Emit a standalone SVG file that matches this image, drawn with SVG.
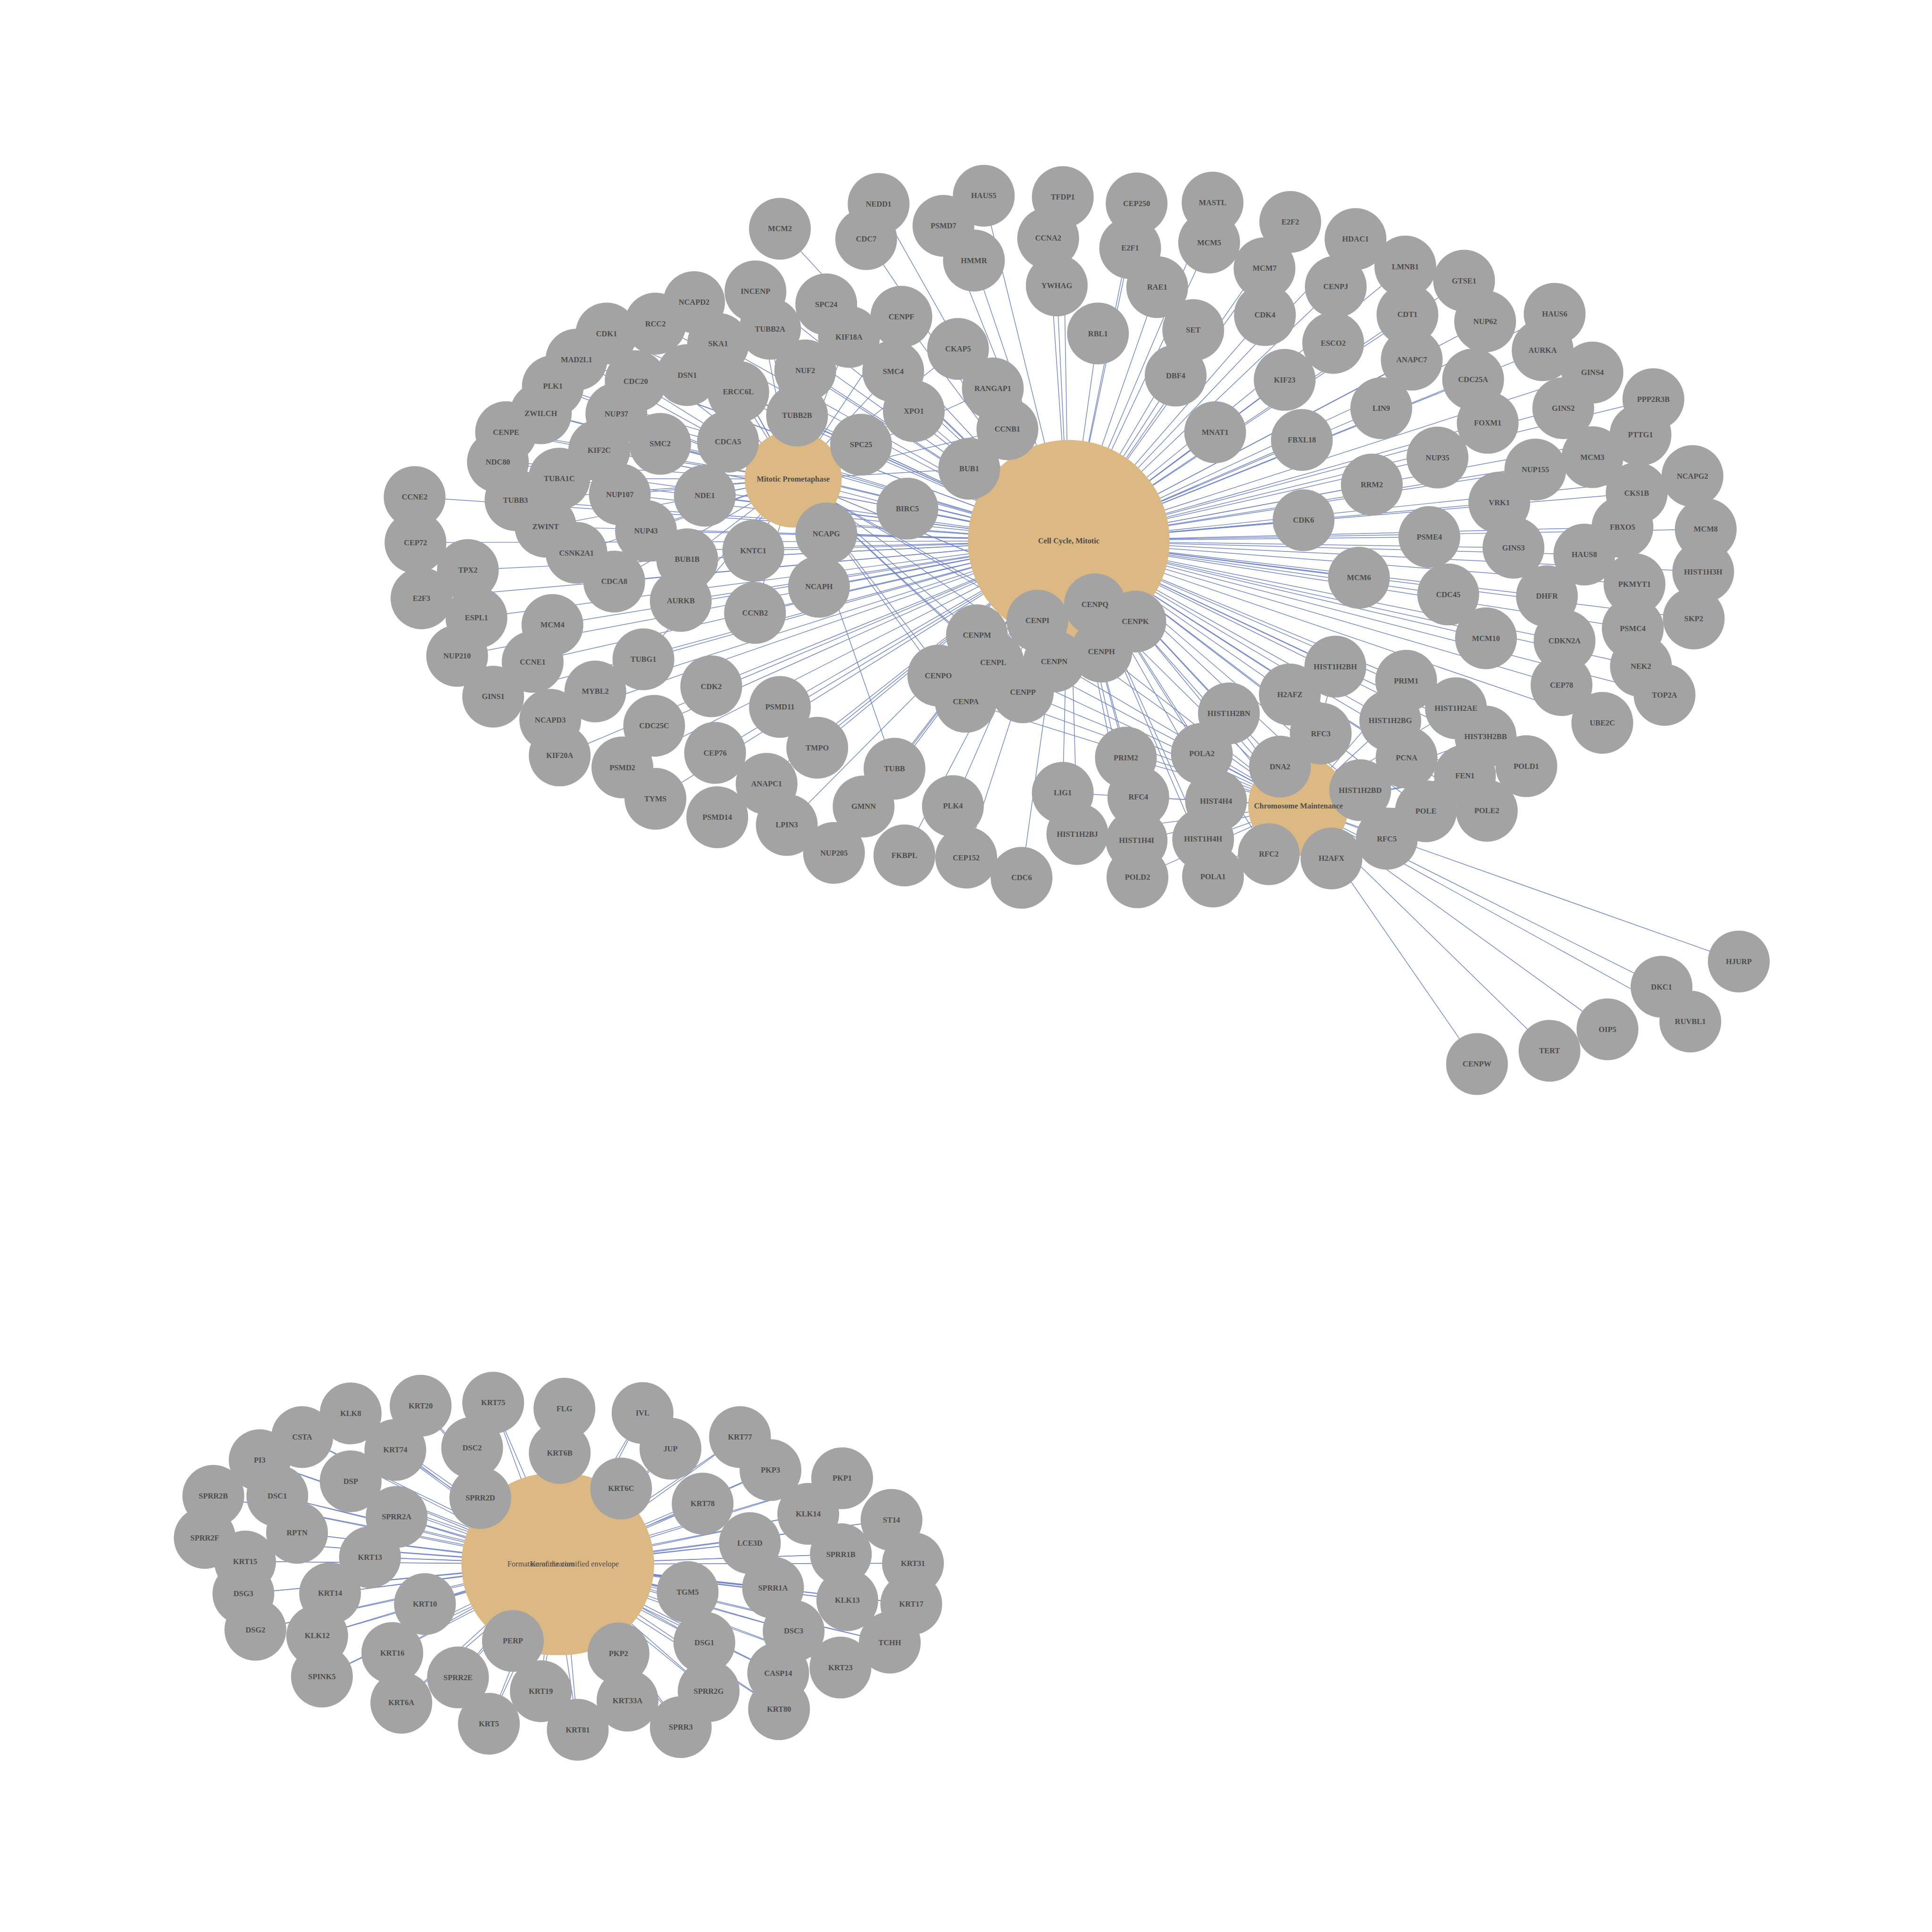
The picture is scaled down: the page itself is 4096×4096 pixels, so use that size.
<svg xmlns="http://www.w3.org/2000/svg" width="4096" height="4096" viewBox="0 0 4096 4096">
<style>
.n circle{fill:#a3a3a3}
.lb text{font-family:"Liberation Serif","Times New Roman",serif;font-weight:bold;font-size:18px;fill:#4d4d4d;text-anchor:middle}
.p circle{fill:#dcb883}
.pl{font-family:"Liberation Serif","Times New Roman",serif;font-weight:bold;font-size:18px;fill:#4d4d4d;text-anchor:middle}
.pr{font-family:"Liberation Serif","Times New Roman",serif;font-weight:normal;font-size:18px;fill:#4d4d4d;text-anchor:middle}
#connectors line{stroke:#7084c8;stroke-width:1.6;fill:none}
</style>
<rect width="4096" height="4096" fill="#ffffff"/>
<g transform="scale(0.91)">
<g id="connectors">
<g id="edges-cell-cycle">
<line x1="1817" y1="533" x2="2490" y2="1260"/>
<line x1="1760" y1="679" x2="2490" y2="1260"/>
<line x1="1925" y1="709" x2="2490" y2="1260"/>
<line x1="1617" y1="704" x2="2490" y2="1260"/>
<line x1="1527" y1="754" x2="2490" y2="1260"/>
<line x1="1413" y1="777" x2="2490" y2="1260"/>
<line x1="1794" y1="766" x2="2490" y2="1260"/>
<line x1="1673" y1="801" x2="2490" y2="1260"/>
<line x1="1343" y1="838" x2="2490" y2="1260"/>
<line x1="1876" y1="863" x2="2490" y2="1260"/>
<line x1="1481" y1="888" x2="2490" y2="1260"/>
<line x1="1601" y1="874" x2="2490" y2="1260"/>
<line x1="1288" y1="900" x2="2490" y2="1260"/>
<line x1="1720" y1="913" x2="2490" y2="1260"/>
<line x1="1260" y1="963" x2="2490" y2="1260"/>
<line x1="1436" y1="964" x2="2490" y2="1260"/>
<line x1="1857" y1="968" x2="2490" y2="1260"/>
<line x1="1179" y1="1007" x2="2490" y2="1260"/>
<line x1="1538" y1="1034" x2="2490" y2="1260"/>
<line x1="1696" y1="1029" x2="2490" y2="1260"/>
<line x1="1396" y1="1049" x2="2490" y2="1260"/>
<line x1="1160" y1="1076" x2="2490" y2="1260"/>
<line x1="1303" y1="1115" x2="2490" y2="1260"/>
<line x1="966" y1="1158" x2="2490" y2="1260"/>
<line x1="1201" y1="1165" x2="2490" y2="1260"/>
<line x1="1444" y1="1152" x2="2490" y2="1260"/>
<line x1="1642" y1="1155" x2="2490" y2="1260"/>
<line x1="1271" y1="1227" x2="2490" y2="1260"/>
<line x1="1505" y1="1237" x2="2490" y2="1260"/>
<line x1="1925" y1="1243" x2="2490" y2="1260"/>
<line x1="968" y1="1264" x2="2490" y2="1260"/>
<line x1="1343" y1="1288" x2="2490" y2="1260"/>
<line x1="1601" y1="1303" x2="2490" y2="1260"/>
<line x1="1755" y1="1283" x2="2490" y2="1260"/>
<line x1="1090" y1="1328" x2="2490" y2="1260"/>
<line x1="1431" y1="1355" x2="2490" y2="1260"/>
<line x1="1908" y1="1367" x2="2490" y2="1260"/>
<line x1="982" y1="1394" x2="2490" y2="1260"/>
<line x1="1586" y1="1400" x2="2490" y2="1260"/>
<line x1="1759" y1="1428" x2="2490" y2="1260"/>
<line x1="1110" y1="1439" x2="2490" y2="1260"/>
<line x1="1287" y1="1456" x2="2490" y2="1260"/>
<line x1="1065" y1="1528" x2="2490" y2="1260"/>
<line x1="1241" y1="1542" x2="2490" y2="1260"/>
<line x1="1499" y1="1536" x2="2490" y2="1260"/>
<line x1="1657" y1="1599" x2="2490" y2="1260"/>
<line x1="1387" y1="1611" x2="2490" y2="1260"/>
<line x1="1149" y1="1623" x2="2490" y2="1260"/>
<line x1="1817" y1="1647" x2="2490" y2="1260"/>
<line x1="1282" y1="1677" x2="2490" y2="1260"/>
<line x1="1524" y1="1691" x2="2490" y2="1260"/>
<line x1="1904" y1="1742" x2="2490" y2="1260"/>
<line x1="1666" y1="1754" x2="2490" y2="1260"/>
<line x1="1304" y1="1760" x2="2490" y2="1260"/>
<line x1="1450" y1="1788" x2="2490" y2="1260"/>
<line x1="1786" y1="1826" x2="2490" y2="1260"/>
<line x1="1527" y1="1861" x2="2490" y2="1260"/>
<line x1="1671" y1="1904" x2="2490" y2="1260"/>
<line x1="1833" y1="1922" x2="2490" y2="1260"/>
<line x1="1943" y1="1987" x2="2490" y2="1260"/>
<line x1="2047" y1="475" x2="2490" y2="1260"/>
<line x1="2292" y1="456" x2="2490" y2="1260"/>
<line x1="2476" y1="459" x2="2490" y2="1260"/>
<line x1="2648" y1="474" x2="2490" y2="1260"/>
<line x1="2825" y1="472" x2="2490" y2="1260"/>
<line x1="3006" y1="517" x2="2490" y2="1260"/>
<line x1="2198" y1="526" x2="2490" y2="1260"/>
<line x1="2018" y1="557" x2="2490" y2="1260"/>
<line x1="2442" y1="555" x2="2490" y2="1260"/>
<line x1="2633" y1="578" x2="2490" y2="1260"/>
<line x1="2817" y1="565" x2="2490" y2="1260"/>
<line x1="2269" y1="607" x2="2490" y2="1260"/>
<line x1="2946" y1="625" x2="2490" y2="1260"/>
<line x1="2462" y1="665" x2="2490" y2="1260"/>
<line x1="2696" y1="669" x2="2490" y2="1260"/>
<line x1="2100" y1="738" x2="2490" y2="1260"/>
<line x1="2947" y1="734" x2="2490" y2="1260"/>
<line x1="2780" y1="769" x2="2490" y2="1260"/>
<line x1="2558" y1="777" x2="2490" y2="1260"/>
<line x1="1978" y1="785" x2="2490" y2="1260"/>
<line x1="2232" y1="813" x2="2490" y2="1260"/>
<line x1="2081" y1="865" x2="2490" y2="1260"/>
<line x1="2739" y1="875" x2="2490" y2="1260"/>
<line x1="2993" y1="885" x2="2490" y2="1260"/>
<line x1="2313" y1="905" x2="2490" y2="1260"/>
<line x1="2129" y1="958" x2="2490" y2="1260"/>
<line x1="2347" y1="1000" x2="2490" y2="1260"/>
<line x1="2831" y1="1007" x2="2490" y2="1260"/>
<line x1="3033" y1="1025" x2="2490" y2="1260"/>
<line x1="2006" y1="1036" x2="2490" y2="1260"/>
<line x1="2258" y1="1092" x2="2490" y2="1260"/>
<line x1="2114" y1="1185" x2="2490" y2="1260"/>
<line x1="3037" y1="1212" x2="2490" y2="1260"/>
<line x1="3158" y1="557" x2="2490" y2="1260"/>
<line x1="3112" y1="668" x2="2490" y2="1260"/>
<line x1="3274" y1="621" x2="2490" y2="1260"/>
<line x1="3411" y1="654" x2="2490" y2="1260"/>
<line x1="3279" y1="733" x2="2490" y2="1260"/>
<line x1="3460" y1="749" x2="2490" y2="1260"/>
<line x1="3622" y1="731" x2="2490" y2="1260"/>
<line x1="3106" y1="799" x2="2490" y2="1260"/>
<line x1="3594" y1="816" x2="2490" y2="1260"/>
<line x1="3289" y1="838" x2="2490" y2="1260"/>
<line x1="3710" y1="868" x2="2490" y2="1260"/>
<line x1="3432" y1="884" x2="2490" y2="1260"/>
<line x1="3852" y1="930" x2="2490" y2="1260"/>
<line x1="3218" y1="951" x2="2490" y2="1260"/>
<line x1="3642" y1="951" x2="2490" y2="1260"/>
<line x1="3466" y1="985" x2="2490" y2="1260"/>
<line x1="3822" y1="1013" x2="2490" y2="1260"/>
<line x1="3349" y1="1066" x2="2490" y2="1260"/>
<line x1="3710" y1="1065" x2="2490" y2="1260"/>
<line x1="3577" y1="1094" x2="2490" y2="1260"/>
<line x1="3943" y1="1109" x2="2490" y2="1260"/>
<line x1="3196" y1="1129" x2="2490" y2="1260"/>
<line x1="3813" y1="1149" x2="2490" y2="1260"/>
<line x1="3493" y1="1171" x2="2490" y2="1260"/>
<line x1="3780" y1="1228" x2="2490" y2="1260"/>
<line x1="3974" y1="1233" x2="2490" y2="1260"/>
<line x1="3330" y1="1251" x2="2490" y2="1260"/>
<line x1="3526" y1="1276" x2="2490" y2="1260"/>
<line x1="3691" y1="1292" x2="2490" y2="1260"/>
<line x1="3968" y1="1332" x2="2490" y2="1260"/>
<line x1="3166" y1="1346" x2="2490" y2="1260"/>
<line x1="3808" y1="1361" x2="2490" y2="1260"/>
<line x1="3374" y1="1385" x2="2490" y2="1260"/>
<line x1="3604" y1="1389" x2="2490" y2="1260"/>
<line x1="3946" y1="1441" x2="2490" y2="1260"/>
<line x1="3804" y1="1464" x2="2490" y2="1260"/>
<line x1="3462" y1="1487" x2="2490" y2="1260"/>
<line x1="3645" y1="1493" x2="2490" y2="1260"/>
<line x1="3823" y1="1552" x2="2490" y2="1260"/>
<line x1="3111" y1="1553" x2="2490" y2="1260"/>
<line x1="3276" y1="1586" x2="2490" y2="1260"/>
<line x1="3638" y1="1596" x2="2490" y2="1260"/>
<line x1="3878" y1="1619" x2="2490" y2="1260"/>
<line x1="3392" y1="1650" x2="2490" y2="1260"/>
<line x1="3239" y1="1679" x2="2490" y2="1260"/>
<line x1="3733" y1="1684" x2="2490" y2="1260"/>
<line x1="3077" y1="1709" x2="2490" y2="1260"/>
<line x1="3461" y1="1716" x2="2490" y2="1260"/>
<line x1="3277" y1="1765" x2="2490" y2="1260"/>
<line x1="3556" y1="1785" x2="2490" y2="1260"/>
<line x1="3413" y1="1807" x2="2490" y2="1260"/>
<line x1="3169" y1="1841" x2="2490" y2="1260"/>
<line x1="3322" y1="1890" x2="2490" y2="1260"/>
<line x1="3464" y1="1889" x2="2490" y2="1260"/>
<line x1="3231" y1="1954" x2="2490" y2="1260"/>
<line x1="3102" y1="2000" x2="2490" y2="1260"/>
<line x1="2551" y1="1408" x2="2490" y2="1260"/>
<line x1="2417" y1="1446" x2="2490" y2="1260"/>
<line x1="2645" y1="1448" x2="2490" y2="1260"/>
<line x1="2276" y1="1480" x2="2490" y2="1260"/>
<line x1="2566" y1="1518" x2="2490" y2="1260"/>
<line x1="2314" y1="1544" x2="2490" y2="1260"/>
<line x1="2456" y1="1541" x2="2490" y2="1260"/>
<line x1="2186" y1="1574" x2="2490" y2="1260"/>
<line x1="2383" y1="1613" x2="2490" y2="1260"/>
<line x1="2250" y1="1635" x2="2490" y2="1260"/>
<line x1="3005" y1="1618" x2="2490" y2="1260"/>
<line x1="2863" y1="1662" x2="2490" y2="1260"/>
<line x1="2800" y1="1756" x2="2490" y2="1260"/>
<line x1="2623" y1="1765" x2="2490" y2="1260"/>
<line x1="2982" y1="1786" x2="2490" y2="1260"/>
<line x1="2084" y1="1791" x2="2490" y2="1260"/>
<line x1="2476" y1="1847" x2="2490" y2="1260"/>
<line x1="2652" y1="1857" x2="2490" y2="1260"/>
<line x1="2833" y1="1866" x2="2490" y2="1260"/>
<line x1="2012" y1="1879" x2="2490" y2="1260"/>
<line x1="2220" y1="1878" x2="2490" y2="1260"/>
<line x1="2510" y1="1943" x2="2490" y2="1260"/>
<line x1="2648" y1="1958" x2="2490" y2="1260"/>
<line x1="2803" y1="1955" x2="2490" y2="1260"/>
<line x1="2956" y1="1990" x2="2490" y2="1260"/>
<line x1="2107" y1="1993" x2="2490" y2="1260"/>
<line x1="2251" y1="1998" x2="2490" y2="1260"/>
<line x1="2380" y1="2045" x2="2490" y2="1260"/>
<line x1="2650" y1="2044" x2="2490" y2="1260"/>
<line x1="2826" y1="2042" x2="2490" y2="1260"/>
</g>
<g id="edges-prometaphase">
<line x1="1760" y1="679" x2="1848" y2="1116"/>
<line x1="1925" y1="709" x2="1848" y2="1116"/>
<line x1="1617" y1="704" x2="1848" y2="1116"/>
<line x1="1527" y1="754" x2="1848" y2="1116"/>
<line x1="1413" y1="777" x2="1848" y2="1116"/>
<line x1="1794" y1="766" x2="1848" y2="1116"/>
<line x1="1673" y1="801" x2="1848" y2="1116"/>
<line x1="1343" y1="838" x2="1848" y2="1116"/>
<line x1="1876" y1="863" x2="1848" y2="1116"/>
<line x1="1481" y1="888" x2="1848" y2="1116"/>
<line x1="1601" y1="874" x2="1848" y2="1116"/>
<line x1="1288" y1="900" x2="1848" y2="1116"/>
<line x1="1720" y1="913" x2="1848" y2="1116"/>
<line x1="1260" y1="963" x2="1848" y2="1116"/>
<line x1="1436" y1="964" x2="1848" y2="1116"/>
<line x1="1857" y1="968" x2="1848" y2="1116"/>
<line x1="1179" y1="1007" x2="1848" y2="1116"/>
<line x1="1538" y1="1034" x2="1848" y2="1116"/>
<line x1="1696" y1="1029" x2="1848" y2="1116"/>
<line x1="1396" y1="1049" x2="1848" y2="1116"/>
<line x1="1160" y1="1076" x2="1848" y2="1116"/>
<line x1="1303" y1="1115" x2="1848" y2="1116"/>
<line x1="1201" y1="1165" x2="1848" y2="1116"/>
<line x1="1444" y1="1152" x2="1848" y2="1116"/>
<line x1="1642" y1="1155" x2="1848" y2="1116"/>
<line x1="1271" y1="1227" x2="1848" y2="1116"/>
<line x1="1505" y1="1237" x2="1848" y2="1116"/>
<line x1="1925" y1="1243" x2="1848" y2="1116"/>
<line x1="1343" y1="1288" x2="1848" y2="1116"/>
<line x1="1601" y1="1303" x2="1848" y2="1116"/>
<line x1="1755" y1="1283" x2="1848" y2="1116"/>
<line x1="1431" y1="1355" x2="1848" y2="1116"/>
<line x1="1908" y1="1367" x2="1848" y2="1116"/>
<line x1="1586" y1="1400" x2="1848" y2="1116"/>
<line x1="1759" y1="1428" x2="1848" y2="1116"/>
<line x1="1499" y1="1536" x2="1848" y2="1116"/>
<line x1="2100" y1="738" x2="1848" y2="1116"/>
<line x1="1978" y1="785" x2="1848" y2="1116"/>
<line x1="2232" y1="813" x2="1848" y2="1116"/>
<line x1="2081" y1="865" x2="1848" y2="1116"/>
<line x1="2313" y1="905" x2="1848" y2="1116"/>
<line x1="2129" y1="958" x2="1848" y2="1116"/>
<line x1="2347" y1="1000" x2="1848" y2="1116"/>
<line x1="2006" y1="1036" x2="1848" y2="1116"/>
<line x1="2258" y1="1092" x2="1848" y2="1116"/>
<line x1="2114" y1="1185" x2="1848" y2="1116"/>
<line x1="2551" y1="1408" x2="1848" y2="1116"/>
<line x1="2417" y1="1446" x2="1848" y2="1116"/>
<line x1="2645" y1="1448" x2="1848" y2="1116"/>
<line x1="2276" y1="1480" x2="1848" y2="1116"/>
<line x1="2566" y1="1518" x2="1848" y2="1116"/>
<line x1="2314" y1="1544" x2="1848" y2="1116"/>
<line x1="2456" y1="1541" x2="1848" y2="1116"/>
<line x1="2186" y1="1574" x2="1848" y2="1116"/>
<line x1="2383" y1="1613" x2="1848" y2="1116"/>
<line x1="2250" y1="1635" x2="1848" y2="1116"/>
<line x1="2084" y1="1791" x2="1848" y2="1116"/>
</g>
<g id="edges-chromosome">
<line x1="2551" y1="1408" x2="3025" y2="1877"/>
<line x1="2417" y1="1446" x2="3025" y2="1877"/>
<line x1="2645" y1="1448" x2="3025" y2="1877"/>
<line x1="2276" y1="1480" x2="3025" y2="1877"/>
<line x1="2566" y1="1518" x2="3025" y2="1877"/>
<line x1="2314" y1="1544" x2="3025" y2="1877"/>
<line x1="2456" y1="1541" x2="3025" y2="1877"/>
<line x1="2186" y1="1574" x2="3025" y2="1877"/>
<line x1="2383" y1="1613" x2="3025" y2="1877"/>
<line x1="2250" y1="1635" x2="3025" y2="1877"/>
<line x1="3005" y1="1618" x2="3025" y2="1877"/>
<line x1="2863" y1="1662" x2="3025" y2="1877"/>
<line x1="2800" y1="1756" x2="3025" y2="1877"/>
<line x1="2623" y1="1765" x2="3025" y2="1877"/>
<line x1="2982" y1="1786" x2="3025" y2="1877"/>
<line x1="2476" y1="1847" x2="3025" y2="1877"/>
<line x1="2652" y1="1857" x2="3025" y2="1877"/>
<line x1="2833" y1="1866" x2="3025" y2="1877"/>
<line x1="2510" y1="1943" x2="3025" y2="1877"/>
<line x1="2648" y1="1958" x2="3025" y2="1877"/>
<line x1="2803" y1="1955" x2="3025" y2="1877"/>
<line x1="2956" y1="1990" x2="3025" y2="1877"/>
<line x1="2650" y1="2044" x2="3025" y2="1877"/>
<line x1="2826" y1="2042" x2="3025" y2="1877"/>
<line x1="3111" y1="1553" x2="3025" y2="1877"/>
<line x1="3276" y1="1586" x2="3025" y2="1877"/>
<line x1="3392" y1="1650" x2="3025" y2="1877"/>
<line x1="3239" y1="1679" x2="3025" y2="1877"/>
<line x1="3077" y1="1709" x2="3025" y2="1877"/>
<line x1="3461" y1="1716" x2="3025" y2="1877"/>
<line x1="3277" y1="1765" x2="3025" y2="1877"/>
<line x1="3556" y1="1785" x2="3025" y2="1877"/>
<line x1="3413" y1="1807" x2="3025" y2="1877"/>
<line x1="3169" y1="1841" x2="3025" y2="1877"/>
<line x1="3322" y1="1890" x2="3025" y2="1877"/>
<line x1="3464" y1="1889" x2="3025" y2="1877"/>
<line x1="3231" y1="1954" x2="3025" y2="1877"/>
<line x1="3102" y1="2000" x2="3025" y2="1877"/>
<line x1="4051" y1="2240" x2="3025" y2="1877"/>
<line x1="3871" y1="2299" x2="3025" y2="1877"/>
<line x1="3938" y1="2380" x2="3025" y2="1877"/>
<line x1="3745" y1="2398" x2="3025" y2="1877"/>
<line x1="3610" y1="2448" x2="3025" y2="1877"/>
<line x1="3441" y1="2479" x2="3025" y2="1877"/>
</g>
<g id="edges-cornified">
<line x1="980" y1="3275" x2="1312" y2="3644"/><line x1="980" y1="3275" x2="1287" y2="3644"/>
<line x1="1149" y1="3268" x2="1312" y2="3644"/><line x1="1149" y1="3268" x2="1287" y2="3644"/>
<line x1="817" y1="3293" x2="1312" y2="3644"/><line x1="817" y1="3293" x2="1287" y2="3644"/>
<line x1="704" y1="3348" x2="1312" y2="3644"/><line x1="704" y1="3348" x2="1287" y2="3644"/>
<line x1="921" y1="3378" x2="1312" y2="3644"/><line x1="921" y1="3378" x2="1287" y2="3644"/>
<line x1="1100" y1="3373" x2="1312" y2="3644"/><line x1="1100" y1="3373" x2="1287" y2="3644"/>
<line x1="605" y1="3402" x2="1312" y2="3644"/><line x1="605" y1="3402" x2="1287" y2="3644"/>
<line x1="817" y1="3451" x2="1312" y2="3644"/><line x1="817" y1="3451" x2="1287" y2="3644"/>
<line x1="497" y1="3485" x2="1312" y2="3644"/><line x1="497" y1="3485" x2="1287" y2="3644"/>
<line x1="646" y1="3485" x2="1312" y2="3644"/><line x1="646" y1="3485" x2="1287" y2="3644"/>
<line x1="1119" y1="3490" x2="1312" y2="3644"/><line x1="1119" y1="3490" x2="1287" y2="3644"/>
<line x1="924" y1="3534" x2="1312" y2="3644"/><line x1="924" y1="3534" x2="1287" y2="3644"/>
<line x1="692" y1="3571" x2="1312" y2="3644"/><line x1="692" y1="3571" x2="1287" y2="3644"/>
<line x1="477" y1="3583" x2="1312" y2="3644"/><line x1="477" y1="3583" x2="1287" y2="3644"/>
<line x1="862" y1="3628" x2="1312" y2="3644"/><line x1="862" y1="3628" x2="1287" y2="3644"/>
<line x1="571" y1="3638" x2="1312" y2="3644"/><line x1="571" y1="3638" x2="1287" y2="3644"/>
<line x1="769" y1="3712" x2="1312" y2="3644"/><line x1="769" y1="3712" x2="1287" y2="3644"/>
<line x1="567" y1="3713" x2="1312" y2="3644"/><line x1="567" y1="3713" x2="1287" y2="3644"/>
<line x1="990" y1="3737" x2="1312" y2="3644"/><line x1="990" y1="3737" x2="1287" y2="3644"/>
<line x1="595" y1="3797" x2="1312" y2="3644"/><line x1="595" y1="3797" x2="1287" y2="3644"/>
<line x1="739" y1="3811" x2="1312" y2="3644"/><line x1="739" y1="3811" x2="1287" y2="3644"/>
<line x1="1195" y1="3823" x2="1312" y2="3644"/><line x1="1195" y1="3823" x2="1287" y2="3644"/>
<line x1="914" y1="3851" x2="1312" y2="3644"/><line x1="914" y1="3851" x2="1287" y2="3644"/>
<line x1="750" y1="3906" x2="1312" y2="3644"/><line x1="750" y1="3906" x2="1287" y2="3644"/>
<line x1="1067" y1="3908" x2="1312" y2="3644"/><line x1="1067" y1="3908" x2="1287" y2="3644"/>
<line x1="1260" y1="3940" x2="1312" y2="3644"/><line x1="1260" y1="3940" x2="1287" y2="3644"/>
<line x1="935" y1="3967" x2="1312" y2="3644"/><line x1="935" y1="3967" x2="1287" y2="3644"/>
<line x1="1139" y1="4016" x2="1312" y2="3644"/><line x1="1139" y1="4016" x2="1287" y2="3644"/>
<line x1="1315" y1="3282" x2="1312" y2="3644"/><line x1="1315" y1="3282" x2="1287" y2="3644"/>
<line x1="1497" y1="3292" x2="1312" y2="3644"/><line x1="1497" y1="3292" x2="1287" y2="3644"/>
<line x1="1724" y1="3348" x2="1312" y2="3644"/><line x1="1724" y1="3348" x2="1287" y2="3644"/>
<line x1="1562" y1="3375" x2="1312" y2="3644"/><line x1="1562" y1="3375" x2="1287" y2="3644"/>
<line x1="1304" y1="3385" x2="1312" y2="3644"/><line x1="1304" y1="3385" x2="1287" y2="3644"/>
<line x1="1795" y1="3425" x2="1312" y2="3644"/><line x1="1795" y1="3425" x2="1287" y2="3644"/>
<line x1="1962" y1="3444" x2="1312" y2="3644"/><line x1="1962" y1="3444" x2="1287" y2="3644"/>
<line x1="1447" y1="3468" x2="1312" y2="3644"/><line x1="1447" y1="3468" x2="1287" y2="3644"/>
<line x1="1637" y1="3503" x2="1312" y2="3644"/><line x1="1637" y1="3503" x2="1287" y2="3644"/>
<line x1="1883" y1="3527" x2="1312" y2="3644"/><line x1="1883" y1="3527" x2="1287" y2="3644"/>
<line x1="2077" y1="3541" x2="1312" y2="3644"/><line x1="2077" y1="3541" x2="1287" y2="3644"/>
<line x1="1747" y1="3595" x2="1312" y2="3644"/><line x1="1747" y1="3595" x2="1287" y2="3644"/>
<line x1="1959" y1="3621" x2="1312" y2="3644"/><line x1="1959" y1="3621" x2="1287" y2="3644"/>
<line x1="2127" y1="3642" x2="1312" y2="3644"/><line x1="2127" y1="3642" x2="1287" y2="3644"/>
<line x1="1801" y1="3699" x2="1312" y2="3644"/><line x1="1801" y1="3699" x2="1287" y2="3644"/>
<line x1="1602" y1="3709" x2="1312" y2="3644"/><line x1="1602" y1="3709" x2="1287" y2="3644"/>
<line x1="1974" y1="3728" x2="1312" y2="3644"/><line x1="1974" y1="3728" x2="1287" y2="3644"/>
<line x1="2123" y1="3737" x2="1312" y2="3644"/><line x1="2123" y1="3737" x2="1287" y2="3644"/>
<line x1="1849" y1="3800" x2="1312" y2="3644"/><line x1="1849" y1="3800" x2="1287" y2="3644"/>
<line x1="1641" y1="3827" x2="1312" y2="3644"/><line x1="1641" y1="3827" x2="1287" y2="3644"/>
<line x1="2073" y1="3827" x2="1312" y2="3644"/><line x1="2073" y1="3827" x2="1287" y2="3644"/>
<line x1="1441" y1="3852" x2="1312" y2="3644"/><line x1="1441" y1="3852" x2="1287" y2="3644"/>
<line x1="1958" y1="3885" x2="1312" y2="3644"/><line x1="1958" y1="3885" x2="1287" y2="3644"/>
<line x1="1813" y1="3898" x2="1312" y2="3644"/><line x1="1813" y1="3898" x2="1287" y2="3644"/>
<line x1="1651" y1="3940" x2="1312" y2="3644"/><line x1="1651" y1="3940" x2="1287" y2="3644"/>
<line x1="1462" y1="3962" x2="1312" y2="3644"/><line x1="1462" y1="3962" x2="1287" y2="3644"/>
<line x1="1815" y1="3982" x2="1312" y2="3644"/><line x1="1815" y1="3982" x2="1287" y2="3644"/>
<line x1="1586" y1="4024" x2="1312" y2="3644"/><line x1="1586" y1="4024" x2="1287" y2="3644"/>
<line x1="1346" y1="4030" x2="1312" y2="3644"/><line x1="1346" y1="4030" x2="1287" y2="3644"/>
</g>
</g>
<g id="pathways">
<g id="p_cell_cycle_mitotic" class="p"><circle cx="2490" cy="1260" r="235"/></g>
<g id="p_mitotic_prometaphase" class="p"><circle cx="1848" cy="1116" r="113"/></g>
<g id="p_chromosome_maintenance" class="p"><circle cx="3025" cy="1877" r="117"/></g>
<g id="p_keratinization" class="p"><circle cx="1287" cy="3644" r="212"/></g>
<g id="p_cornified_envelope" class="p"><circle cx="1312" cy="3644" r="212"/></g>
</g>
<g id="nodes" class="n">
<g id="n_MCM2"><circle cx="1817" cy="533" r="72"/></g>
<g id="n_INCENP"><circle cx="1760" cy="679" r="72"/></g>
<g id="n_SPC24"><circle cx="1925" cy="709" r="72"/></g>
<g id="n_NCAPD2"><circle cx="1617" cy="704" r="72"/></g>
<g id="n_RCC2"><circle cx="1527" cy="754" r="72"/></g>
<g id="n_CDK1"><circle cx="1413" cy="777" r="72"/></g>
<g id="n_TUBB2A"><circle cx="1794" cy="766" r="72"/></g>
<g id="n_SKA1"><circle cx="1673" cy="801" r="72"/></g>
<g id="n_MAD2L1"><circle cx="1343" cy="838" r="72"/></g>
<g id="n_NUF2"><circle cx="1876" cy="863" r="72"/></g>
<g id="n_DSN1"><circle cx="1601" cy="874" r="72"/></g>
<g id="n_CDC20"><circle cx="1481" cy="888" r="72"/></g>
<g id="n_PLK1"><circle cx="1288" cy="900" r="72"/></g>
<g id="n_ERCC6L"><circle cx="1720" cy="913" r="72"/></g>
<g id="n_ZWILCH"><circle cx="1260" cy="963" r="72"/></g>
<g id="n_NUP37"><circle cx="1436" cy="964" r="72"/></g>
<g id="n_TUBB2B"><circle cx="1857" cy="968" r="72"/></g>
<g id="n_CENPE"><circle cx="1179" cy="1007" r="72"/></g>
<g id="n_SMC2"><circle cx="1538" cy="1034" r="72"/></g>
<g id="n_CDCA5"><circle cx="1696" cy="1029" r="72"/></g>
<g id="n_KIF2C"><circle cx="1396" cy="1049" r="72"/></g>
<g id="n_NDC80"><circle cx="1160" cy="1076" r="72"/></g>
<g id="n_TUBA1C"><circle cx="1303" cy="1115" r="72"/></g>
<g id="n_CCNE2"><circle cx="966" cy="1158" r="72"/></g>
<g id="n_TUBB3"><circle cx="1201" cy="1165" r="72"/></g>
<g id="n_NUP107"><circle cx="1444" cy="1152" r="72"/></g>
<g id="n_NDE1"><circle cx="1642" cy="1155" r="72"/></g>
<g id="n_ZWINT"><circle cx="1271" cy="1227" r="72"/></g>
<g id="n_NUP43"><circle cx="1505" cy="1237" r="72"/></g>
<g id="n_NCAPG"><circle cx="1925" cy="1243" r="72"/></g>
<g id="n_CEP72"><circle cx="968" cy="1264" r="72"/></g>
<g id="n_CSNK2A1"><circle cx="1343" cy="1288" r="72"/></g>
<g id="n_KNTC1"><circle cx="1755" cy="1283" r="72"/></g>
<g id="n_BUB1B"><circle cx="1601" cy="1303" r="72"/></g>
<g id="n_TPX2"><circle cx="1090" cy="1328" r="72"/></g>
<g id="n_CDCA8"><circle cx="1431" cy="1355" r="72"/></g>
<g id="n_NCAPH"><circle cx="1908" cy="1367" r="72"/></g>
<g id="n_E2F3"><circle cx="982" cy="1394" r="72"/></g>
<g id="n_AURKB"><circle cx="1586" cy="1400" r="72"/></g>
<g id="n_CCNB2"><circle cx="1759" cy="1428" r="72"/></g>
<g id="n_ESPL1"><circle cx="1110" cy="1439" r="72"/></g>
<g id="n_MCM4"><circle cx="1287" cy="1456" r="72"/></g>
<g id="n_NUP210"><circle cx="1065" cy="1528" r="72"/></g>
<g id="n_CCNE1"><circle cx="1241" cy="1542" r="72"/></g>
<g id="n_TUBG1"><circle cx="1499" cy="1536" r="72"/></g>
<g id="n_CDK2"><circle cx="1657" cy="1599" r="72"/></g>
<g id="n_GINS1"><circle cx="1149" cy="1623" r="72"/></g>
<g id="n_MYBL2"><circle cx="1387" cy="1611" r="72"/></g>
<g id="n_PSMD11"><circle cx="1817" cy="1647" r="72"/></g>
<g id="n_NCAPD3"><circle cx="1282" cy="1677" r="72"/></g>
<g id="n_CDC25C"><circle cx="1524" cy="1691" r="72"/></g>
<g id="n_TMPO"><circle cx="1904" cy="1742" r="72"/></g>
<g id="n_CEP76"><circle cx="1666" cy="1754" r="72"/></g>
<g id="n_KIF20A"><circle cx="1304" cy="1760" r="72"/></g>
<g id="n_PSMD2"><circle cx="1450" cy="1788" r="72"/></g>
<g id="n_ANAPC1"><circle cx="1786" cy="1826" r="72"/></g>
<g id="n_TYMS"><circle cx="1527" cy="1861" r="72"/></g>
<g id="n_PSMD14"><circle cx="1671" cy="1904" r="72"/></g>
<g id="n_LPIN3"><circle cx="1833" cy="1922" r="72"/></g>
<g id="n_NUP205"><circle cx="1943" cy="1987" r="72"/></g>
<g id="n_NEDD1"><circle cx="2047" cy="475" r="72"/></g>
<g id="n_HAUS5"><circle cx="2292" cy="456" r="72"/></g>
<g id="n_TFDP1"><circle cx="2476" cy="459" r="72"/></g>
<g id="n_CEP250"><circle cx="2648" cy="474" r="72"/></g>
<g id="n_MASTL"><circle cx="2825" cy="472" r="72"/></g>
<g id="n_E2F2"><circle cx="3006" cy="517" r="72"/></g>
<g id="n_CDC7"><circle cx="2018" cy="557" r="72"/></g>
<g id="n_PSMD7"><circle cx="2198" cy="526" r="72"/></g>
<g id="n_CCNA2"><circle cx="2442" cy="555" r="72"/></g>
<g id="n_E2F1"><circle cx="2633" cy="578" r="72"/></g>
<g id="n_MCM5"><circle cx="2817" cy="565" r="72"/></g>
<g id="n_HMMR"><circle cx="2269" cy="607" r="72"/></g>
<g id="n_MCM7"><circle cx="2946" cy="625" r="72"/></g>
<g id="n_YWHAG"><circle cx="2462" cy="665" r="72"/></g>
<g id="n_RAE1"><circle cx="2696" cy="669" r="72"/></g>
<g id="n_CENPF"><circle cx="2100" cy="738" r="72"/></g>
<g id="n_CDK4"><circle cx="2947" cy="734" r="72"/></g>
<g id="n_SET"><circle cx="2780" cy="769" r="72"/></g>
<g id="n_RBL1"><circle cx="2558" cy="777" r="72"/></g>
<g id="n_KIF18A"><circle cx="1978" cy="785" r="72"/></g>
<g id="n_CKAP5"><circle cx="2232" cy="813" r="72"/></g>
<g id="n_SMC4"><circle cx="2081" cy="865" r="72"/></g>
<g id="n_DBF4"><circle cx="2739" cy="875" r="72"/></g>
<g id="n_KIF23"><circle cx="2993" cy="885" r="72"/></g>
<g id="n_RANGAP1"><circle cx="2313" cy="905" r="72"/></g>
<g id="n_XPO1"><circle cx="2129" cy="958" r="72"/></g>
<g id="n_CCNB1"><circle cx="2347" cy="1000" r="72"/></g>
<g id="n_MNAT1"><circle cx="2831" cy="1007" r="72"/></g>
<g id="n_FBXL18"><circle cx="3033" cy="1025" r="72"/></g>
<g id="n_SPC25"><circle cx="2006" cy="1036" r="72"/></g>
<g id="n_BUB1"><circle cx="2258" cy="1092" r="72"/></g>
<g id="n_BIRC5"><circle cx="2114" cy="1185" r="72"/></g>
<g id="n_CDK6"><circle cx="3037" cy="1212" r="72"/></g>
<g id="n_HDAC1"><circle cx="3158" cy="557" r="72"/></g>
<g id="n_CENPJ"><circle cx="3112" cy="668" r="72"/></g>
<g id="n_LMNB1"><circle cx="3274" cy="621" r="72"/></g>
<g id="n_GTSE1"><circle cx="3411" cy="654" r="72"/></g>
<g id="n_CDT1"><circle cx="3279" cy="733" r="72"/></g>
<g id="n_NUP62"><circle cx="3460" cy="749" r="72"/></g>
<g id="n_HAUS6"><circle cx="3622" cy="731" r="72"/></g>
<g id="n_ESCO2"><circle cx="3106" cy="799" r="72"/></g>
<g id="n_AURKA"><circle cx="3594" cy="816" r="72"/></g>
<g id="n_ANAPC7"><circle cx="3289" cy="838" r="72"/></g>
<g id="n_GINS4"><circle cx="3710" cy="868" r="72"/></g>
<g id="n_CDC25A"><circle cx="3432" cy="884" r="72"/></g>
<g id="n_PPP2R3B"><circle cx="3852" cy="930" r="72"/></g>
<g id="n_LIN9"><circle cx="3218" cy="951" r="72"/></g>
<g id="n_GINS2"><circle cx="3642" cy="951" r="72"/></g>
<g id="n_FOXM1"><circle cx="3466" cy="985" r="72"/></g>
<g id="n_PTTG1"><circle cx="3822" cy="1013" r="72"/></g>
<g id="n_NUP35"><circle cx="3349" cy="1066" r="72"/></g>
<g id="n_MCM3"><circle cx="3710" cy="1065" r="72"/></g>
<g id="n_NUP155"><circle cx="3577" cy="1094" r="72"/></g>
<g id="n_NCAPG2"><circle cx="3943" cy="1109" r="72"/></g>
<g id="n_RRM2"><circle cx="3196" cy="1129" r="72"/></g>
<g id="n_CKS1B"><circle cx="3813" cy="1149" r="72"/></g>
<g id="n_VRK1"><circle cx="3493" cy="1171" r="72"/></g>
<g id="n_FBXO5"><circle cx="3780" cy="1228" r="72"/></g>
<g id="n_MCM8"><circle cx="3974" cy="1233" r="72"/></g>
<g id="n_PSME4"><circle cx="3330" cy="1251" r="72"/></g>
<g id="n_GINS3"><circle cx="3526" cy="1276" r="72"/></g>
<g id="n_HAUS8"><circle cx="3691" cy="1292" r="72"/></g>
<g id="n_HIST1H3H"><circle cx="3968" cy="1332" r="72"/></g>
<g id="n_MCM6"><circle cx="3166" cy="1346" r="72"/></g>
<g id="n_PKMYT1"><circle cx="3808" cy="1361" r="72"/></g>
<g id="n_CDC45"><circle cx="3374" cy="1385" r="72"/></g>
<g id="n_DHFR"><circle cx="3604" cy="1389" r="72"/></g>
<g id="n_SKP2"><circle cx="3946" cy="1441" r="72"/></g>
<g id="n_PSMC4"><circle cx="3804" cy="1464" r="72"/></g>
<g id="n_MCM10"><circle cx="3462" cy="1487" r="72"/></g>
<g id="n_CDKN2A"><circle cx="3645" cy="1493" r="72"/></g>
<g id="n_NEK2"><circle cx="3823" cy="1552" r="72"/></g>
<g id="n_CEP78"><circle cx="3638" cy="1596" r="72"/></g>
<g id="n_TOP2A"><circle cx="3878" cy="1619" r="72"/></g>
<g id="n_UBE2C"><circle cx="3733" cy="1684" r="72"/></g>
<g id="n_HIST1H2BH"><circle cx="3111" cy="1553" r="72"/></g>
<g id="n_PRIM1"><circle cx="3276" cy="1586" r="72"/></g>
<g id="n_HIST1H2AE"><circle cx="3392" cy="1650" r="72"/></g>
<g id="n_HIST1H2BG"><circle cx="3239" cy="1679" r="72"/></g>
<g id="n_HIST3H2BB"><circle cx="3461" cy="1716" r="72"/></g>
<g id="n_RFC3"><circle cx="3077" cy="1709" r="72"/></g>
<g id="n_PCNA"><circle cx="3277" cy="1765" r="72"/></g>
<g id="n_POLD1"><circle cx="3556" cy="1785" r="72"/></g>
<g id="n_FEN1"><circle cx="3413" cy="1807" r="72"/></g>
<g id="n_HIST1H2BD"><circle cx="3169" cy="1841" r="72"/></g>
<g id="n_POLE"><circle cx="3322" cy="1890" r="72"/></g>
<g id="n_POLE2"><circle cx="3464" cy="1889" r="72"/></g>
<g id="n_RFC5"><circle cx="3231" cy="1954" r="72"/></g>
<g id="n_H2AFX"><circle cx="3102" cy="2000" r="72"/></g>
<g id="n_CENPQ"><circle cx="2551" cy="1408" r="72"/></g>
<g id="n_CENPI"><circle cx="2417" cy="1446" r="72"/></g>
<g id="n_CENPK"><circle cx="2645" cy="1448" r="72"/></g>
<g id="n_CENPM"><circle cx="2276" cy="1480" r="72"/></g>
<g id="n_CENPH"><circle cx="2566" cy="1518" r="72"/></g>
<g id="n_CENPN"><circle cx="2456" cy="1541" r="72"/></g>
<g id="n_CENPL"><circle cx="2314" cy="1544" r="72"/></g>
<g id="n_CENPO"><circle cx="2186" cy="1574" r="72"/></g>
<g id="n_CENPP"><circle cx="2383" cy="1613" r="72"/></g>
<g id="n_CENPA"><circle cx="2250" cy="1635" r="72"/></g>
<g id="n_H2AFZ"><circle cx="3005" cy="1618" r="72"/></g>
<g id="n_HIST1H2BN"><circle cx="2863" cy="1662" r="72"/></g>
<g id="n_POLA2"><circle cx="2800" cy="1756" r="72"/></g>
<g id="n_PRIM2"><circle cx="2623" cy="1765" r="72"/></g>
<g id="n_DNA2"><circle cx="2982" cy="1786" r="72"/></g>
<g id="n_TUBB"><circle cx="2084" cy="1791" r="72"/></g>
<g id="n_LIG1"><circle cx="2476" cy="1847" r="72"/></g>
<g id="n_RFC4"><circle cx="2652" cy="1857" r="72"/></g>
<g id="n_HIST4H4"><circle cx="2833" cy="1866" r="72"/></g>
<g id="n_GMNN"><circle cx="2012" cy="1879" r="72"/></g>
<g id="n_PLK4"><circle cx="2220" cy="1878" r="72"/></g>
<g id="n_HIST1H2BJ"><circle cx="2510" cy="1943" r="72"/></g>
<g id="n_HIST1H4I"><circle cx="2648" cy="1958" r="72"/></g>
<g id="n_HIST1H4H"><circle cx="2803" cy="1955" r="72"/></g>
<g id="n_RFC2"><circle cx="2956" cy="1990" r="72"/></g>
<g id="n_FKBPL"><circle cx="2107" cy="1993" r="72"/></g>
<g id="n_CEP152"><circle cx="2251" cy="1998" r="72"/></g>
<g id="n_CDC6"><circle cx="2380" cy="2045" r="72"/></g>
<g id="n_POLD2"><circle cx="2650" cy="2044" r="72"/></g>
<g id="n_POLA1"><circle cx="2826" cy="2042" r="72"/></g>
<g id="n_HJURP"><circle cx="4051" cy="2240" r="72"/></g>
<g id="n_DKC1"><circle cx="3871" cy="2299" r="72"/></g>
<g id="n_RUVBL1"><circle cx="3938" cy="2380" r="72"/></g>
<g id="n_OIP5"><circle cx="3745" cy="2398" r="72"/></g>
<g id="n_TERT"><circle cx="3610" cy="2448" r="72"/></g>
<g id="n_CENPW"><circle cx="3441" cy="2479" r="72"/></g>
<g id="n_KRT20"><circle cx="980" cy="3275" r="72"/></g>
<g id="n_KRT75"><circle cx="1149" cy="3268" r="72"/></g>
<g id="n_KLK8"><circle cx="817" cy="3293" r="72"/></g>
<g id="n_CSTA"><circle cx="704" cy="3348" r="72"/></g>
<g id="n_KRT74"><circle cx="921" cy="3378" r="72"/></g>
<g id="n_DSC2"><circle cx="1100" cy="3373" r="72"/></g>
<g id="n_PI3"><circle cx="605" cy="3402" r="72"/></g>
<g id="n_DSP"><circle cx="817" cy="3451" r="72"/></g>
<g id="n_SPRR2B"><circle cx="497" cy="3485" r="72"/></g>
<g id="n_DSC1"><circle cx="646" cy="3485" r="72"/></g>
<g id="n_SPRR2D"><circle cx="1119" cy="3490" r="72"/></g>
<g id="n_SPRR2A"><circle cx="924" cy="3534" r="72"/></g>
<g id="n_RPTN"><circle cx="692" cy="3571" r="72"/></g>
<g id="n_SPRR2F"><circle cx="477" cy="3583" r="72"/></g>
<g id="n_KRT13"><circle cx="862" cy="3628" r="72"/></g>
<g id="n_KRT15"><circle cx="571" cy="3638" r="72"/></g>
<g id="n_KRT14"><circle cx="769" cy="3712" r="72"/></g>
<g id="n_DSG3"><circle cx="567" cy="3713" r="72"/></g>
<g id="n_KRT10"><circle cx="990" cy="3737" r="72"/></g>
<g id="n_DSG2"><circle cx="595" cy="3797" r="72"/></g>
<g id="n_KLK12"><circle cx="739" cy="3811" r="72"/></g>
<g id="n_PERP"><circle cx="1195" cy="3823" r="72"/></g>
<g id="n_KRT16"><circle cx="914" cy="3851" r="72"/></g>
<g id="n_SPINK5"><circle cx="750" cy="3906" r="72"/></g>
<g id="n_SPRR2E"><circle cx="1067" cy="3908" r="72"/></g>
<g id="n_KRT19"><circle cx="1260" cy="3940" r="72"/></g>
<g id="n_KRT6A"><circle cx="935" cy="3967" r="72"/></g>
<g id="n_KRT5"><circle cx="1139" cy="4016" r="72"/></g>
<g id="n_FLG"><circle cx="1315" cy="3282" r="72"/></g>
<g id="n_IVL"><circle cx="1497" cy="3292" r="72"/></g>
<g id="n_KRT6B"><circle cx="1304" cy="3385" r="72"/></g>
<g id="n_JUP"><circle cx="1562" cy="3375" r="72"/></g>
<g id="n_KRT77"><circle cx="1724" cy="3348" r="72"/></g>
<g id="n_PKP3"><circle cx="1795" cy="3425" r="72"/></g>
<g id="n_PKP1"><circle cx="1962" cy="3444" r="72"/></g>
<g id="n_KRT6C"><circle cx="1447" cy="3468" r="72"/></g>
<g id="n_KRT78"><circle cx="1637" cy="3503" r="72"/></g>
<g id="n_KLK14"><circle cx="1883" cy="3527" r="72"/></g>
<g id="n_ST14"><circle cx="2077" cy="3541" r="72"/></g>
<g id="n_LCE3D"><circle cx="1747" cy="3595" r="72"/></g>
<g id="n_SPRR1B"><circle cx="1959" cy="3621" r="72"/></g>
<g id="n_KRT31"><circle cx="2127" cy="3642" r="72"/></g>
<g id="n_SPRR1A"><circle cx="1801" cy="3699" r="72"/></g>
<g id="n_TGM5"><circle cx="1602" cy="3709" r="72"/></g>
<g id="n_KLK13"><circle cx="1974" cy="3728" r="72"/></g>
<g id="n_KRT17"><circle cx="2123" cy="3737" r="72"/></g>
<g id="n_DSC3"><circle cx="1849" cy="3800" r="72"/></g>
<g id="n_DSG1"><circle cx="1641" cy="3827" r="72"/></g>
<g id="n_TCHH"><circle cx="2073" cy="3827" r="72"/></g>
<g id="n_PKP2"><circle cx="1441" cy="3852" r="72"/></g>
<g id="n_KRT23"><circle cx="1958" cy="3885" r="72"/></g>
<g id="n_CASP14"><circle cx="1813" cy="3898" r="72"/></g>
<g id="n_SPRR2G"><circle cx="1651" cy="3940" r="72"/></g>
<g id="n_KRT33A"><circle cx="1462" cy="3962" r="72"/></g>
<g id="n_KRT80"><circle cx="1815" cy="3982" r="72"/></g>
<g id="n_SPRR3"><circle cx="1586" cy="4024" r="72"/></g>
<g id="n_KRT81"><circle cx="1346" cy="4030" r="72"/></g>
</g>
<g id="node-labels" class="lb">
<text x="1817" y="539">MCM2</text>
<text x="1760" y="685">INCENP</text>
<text x="1925" y="715">SPC24</text>
<text x="1617" y="710">NCAPD2</text>
<text x="1527" y="760">RCC2</text>
<text x="1413" y="783">CDK1</text>
<text x="1794" y="772">TUBB2A</text>
<text x="1673" y="807">SKA1</text>
<text x="1343" y="844">MAD2L1</text>
<text x="1876" y="869">NUF2</text>
<text x="1601" y="880">DSN1</text>
<text x="1481" y="894">CDC20</text>
<text x="1288" y="906">PLK1</text>
<text x="1720" y="919">ERCC6L</text>
<text x="1260" y="969">ZWILCH</text>
<text x="1436" y="970">NUP37</text>
<text x="1857" y="974">TUBB2B</text>
<text x="1179" y="1013">CENPE</text>
<text x="1538" y="1040">SMC2</text>
<text x="1696" y="1035">CDCA5</text>
<text x="1396" y="1055">KIF2C</text>
<text x="1160" y="1082">NDC80</text>
<text x="1303" y="1121">TUBA1C</text>
<text x="966" y="1164">CCNE2</text>
<text x="1201" y="1171">TUBB3</text>
<text x="1444" y="1158">NUP107</text>
<text x="1642" y="1161">NDE1</text>
<text x="1271" y="1233">ZWINT</text>
<text x="1505" y="1243">NUP43</text>
<text x="1925" y="1249">NCAPG</text>
<text x="968" y="1270">CEP72</text>
<text x="1343" y="1294">CSNK2A1</text>
<text x="1755" y="1289">KNTC1</text>
<text x="1601" y="1309">BUB1B</text>
<text x="1090" y="1334">TPX2</text>
<text x="1431" y="1361">CDCA8</text>
<text x="1908" y="1373">NCAPH</text>
<text x="982" y="1400">E2F3</text>
<text x="1586" y="1406">AURKB</text>
<text x="1759" y="1434">CCNB2</text>
<text x="1110" y="1445">ESPL1</text>
<text x="1287" y="1462">MCM4</text>
<text x="1065" y="1534">NUP210</text>
<text x="1241" y="1548">CCNE1</text>
<text x="1499" y="1542">TUBG1</text>
<text x="1657" y="1605">CDK2</text>
<text x="1149" y="1629">GINS1</text>
<text x="1387" y="1617">MYBL2</text>
<text x="1817" y="1653">PSMD11</text>
<text x="1282" y="1683">NCAPD3</text>
<text x="1524" y="1697">CDC25C</text>
<text x="1904" y="1748">TMPO</text>
<text x="1666" y="1760">CEP76</text>
<text x="1304" y="1766">KIF20A</text>
<text x="1450" y="1794">PSMD2</text>
<text x="1786" y="1832">ANAPC1</text>
<text x="1527" y="1867">TYMS</text>
<text x="1671" y="1910">PSMD14</text>
<text x="1833" y="1928">LPIN3</text>
<text x="1943" y="1993">NUP205</text>
<text x="2047" y="481">NEDD1</text>
<text x="2292" y="462">HAUS5</text>
<text x="2476" y="465">TFDP1</text>
<text x="2648" y="480">CEP250</text>
<text x="2825" y="478">MASTL</text>
<text x="3006" y="523">E2F2</text>
<text x="2018" y="563">CDC7</text>
<text x="2198" y="532">PSMD7</text>
<text x="2442" y="561">CCNA2</text>
<text x="2633" y="584">E2F1</text>
<text x="2817" y="571">MCM5</text>
<text x="2269" y="613">HMMR</text>
<text x="2946" y="631">MCM7</text>
<text x="2462" y="671">YWHAG</text>
<text x="2696" y="675">RAE1</text>
<text x="2100" y="744">CENPF</text>
<text x="2947" y="740">CDK4</text>
<text x="2780" y="775">SET</text>
<text x="2558" y="783">RBL1</text>
<text x="1978" y="791">KIF18A</text>
<text x="2232" y="819">CKAP5</text>
<text x="2081" y="871">SMC4</text>
<text x="2739" y="881">DBF4</text>
<text x="2993" y="891">KIF23</text>
<text x="2313" y="911">RANGAP1</text>
<text x="2129" y="964">XPO1</text>
<text x="2347" y="1006">CCNB1</text>
<text x="2831" y="1013">MNAT1</text>
<text x="3033" y="1031">FBXL18</text>
<text x="2006" y="1042">SPC25</text>
<text x="2258" y="1098">BUB1</text>
<text x="2114" y="1191">BIRC5</text>
<text x="3037" y="1218">CDK6</text>
<text x="3158" y="563">HDAC1</text>
<text x="3112" y="674">CENPJ</text>
<text x="3274" y="627">LMNB1</text>
<text x="3411" y="660">GTSE1</text>
<text x="3279" y="739">CDT1</text>
<text x="3460" y="755">NUP62</text>
<text x="3622" y="737">HAUS6</text>
<text x="3106" y="805">ESCO2</text>
<text x="3594" y="822">AURKA</text>
<text x="3289" y="844">ANAPC7</text>
<text x="3710" y="874">GINS4</text>
<text x="3432" y="890">CDC25A</text>
<text x="3852" y="936">PPP2R3B</text>
<text x="3218" y="957">LIN9</text>
<text x="3642" y="957">GINS2</text>
<text x="3466" y="991">FOXM1</text>
<text x="3822" y="1019">PTTG1</text>
<text x="3349" y="1072">NUP35</text>
<text x="3710" y="1071">MCM3</text>
<text x="3577" y="1100">NUP155</text>
<text x="3943" y="1115">NCAPG2</text>
<text x="3196" y="1135">RRM2</text>
<text x="3813" y="1155">CKS1B</text>
<text x="3493" y="1177">VRK1</text>
<text x="3780" y="1234">FBXO5</text>
<text x="3974" y="1239">MCM8</text>
<text x="3330" y="1257">PSME4</text>
<text x="3526" y="1282">GINS3</text>
<text x="3691" y="1298">HAUS8</text>
<text x="3968" y="1338">HIST1H3H</text>
<text x="3166" y="1352">MCM6</text>
<text x="3808" y="1367">PKMYT1</text>
<text x="3374" y="1391">CDC45</text>
<text x="3604" y="1395">DHFR</text>
<text x="3946" y="1447">SKP2</text>
<text x="3804" y="1470">PSMC4</text>
<text x="3462" y="1493">MCM10</text>
<text x="3645" y="1499">CDKN2A</text>
<text x="3823" y="1558">NEK2</text>
<text x="3638" y="1602">CEP78</text>
<text x="3878" y="1625">TOP2A</text>
<text x="3733" y="1690">UBE2C</text>
<text x="3111" y="1559">HIST1H2BH</text>
<text x="3276" y="1592">PRIM1</text>
<text x="3392" y="1656">HIST1H2AE</text>
<text x="3239" y="1685">HIST1H2BG</text>
<text x="3461" y="1722">HIST3H2BB</text>
<text x="3077" y="1715">RFC3</text>
<text x="3277" y="1771">PCNA</text>
<text x="3556" y="1791">POLD1</text>
<text x="3413" y="1813">FEN1</text>
<text x="3169" y="1847">HIST1H2BD</text>
<text x="3322" y="1896">POLE</text>
<text x="3464" y="1895">POLE2</text>
<text x="3231" y="1960">RFC5</text>
<text x="3102" y="2006">H2AFX</text>
<text x="2551" y="1414">CENPQ</text>
<text x="2417" y="1452">CENPI</text>
<text x="2645" y="1454">CENPK</text>
<text x="2276" y="1486">CENPM</text>
<text x="2566" y="1524">CENPH</text>
<text x="2456" y="1547">CENPN</text>
<text x="2314" y="1550">CENPL</text>
<text x="2186" y="1580">CENPO</text>
<text x="2383" y="1619">CENPP</text>
<text x="2250" y="1641">CENPA</text>
<text x="3005" y="1624">H2AFZ</text>
<text x="2863" y="1668">HIST1H2BN</text>
<text x="2800" y="1762">POLA2</text>
<text x="2623" y="1771">PRIM2</text>
<text x="2982" y="1792">DNA2</text>
<text x="2084" y="1797">TUBB</text>
<text x="2476" y="1853">LIG1</text>
<text x="2652" y="1863">RFC4</text>
<text x="2833" y="1872">HIST4H4</text>
<text x="2012" y="1885">GMNN</text>
<text x="2220" y="1884">PLK4</text>
<text x="2510" y="1949">HIST1H2BJ</text>
<text x="2648" y="1964">HIST1H4I</text>
<text x="2803" y="1961">HIST1H4H</text>
<text x="2956" y="1996">RFC2</text>
<text x="2107" y="1999">FKBPL</text>
<text x="2251" y="2004">CEP152</text>
<text x="2380" y="2051">CDC6</text>
<text x="2650" y="2050">POLD2</text>
<text x="2826" y="2048">POLA1</text>
<text x="4051" y="2246">HJURP</text>
<text x="3871" y="2305">DKC1</text>
<text x="3938" y="2386">RUVBL1</text>
<text x="3745" y="2404">OIP5</text>
<text x="3610" y="2454">TERT</text>
<text x="3441" y="2485">CENPW</text>
<text x="980" y="3281">KRT20</text>
<text x="1149" y="3274">KRT75</text>
<text x="817" y="3299">KLK8</text>
<text x="704" y="3354">CSTA</text>
<text x="921" y="3384">KRT74</text>
<text x="1100" y="3379">DSC2</text>
<text x="605" y="3408">PI3</text>
<text x="817" y="3457">DSP</text>
<text x="497" y="3491">SPRR2B</text>
<text x="646" y="3491">DSC1</text>
<text x="1119" y="3496">SPRR2D</text>
<text x="924" y="3540">SPRR2A</text>
<text x="692" y="3577">RPTN</text>
<text x="477" y="3589">SPRR2F</text>
<text x="862" y="3634">KRT13</text>
<text x="571" y="3644">KRT15</text>
<text x="769" y="3718">KRT14</text>
<text x="567" y="3719">DSG3</text>
<text x="990" y="3743">KRT10</text>
<text x="595" y="3803">DSG2</text>
<text x="739" y="3817">KLK12</text>
<text x="1195" y="3829">PERP</text>
<text x="914" y="3857">KRT16</text>
<text x="750" y="3912">SPINK5</text>
<text x="1067" y="3914">SPRR2E</text>
<text x="1260" y="3946">KRT19</text>
<text x="935" y="3973">KRT6A</text>
<text x="1139" y="4022">KRT5</text>
<text x="1315" y="3288">FLG</text>
<text x="1497" y="3298">IVL</text>
<text x="1304" y="3391">KRT6B</text>
<text x="1562" y="3381">JUP</text>
<text x="1724" y="3354">KRT77</text>
<text x="1795" y="3431">PKP3</text>
<text x="1962" y="3450">PKP1</text>
<text x="1447" y="3474">KRT6C</text>
<text x="1637" y="3509">KRT78</text>
<text x="1883" y="3533">KLK14</text>
<text x="2077" y="3547">ST14</text>
<text x="1747" y="3601">LCE3D</text>
<text x="1959" y="3627">SPRR1B</text>
<text x="2127" y="3648">KRT31</text>
<text x="1801" y="3705">SPRR1A</text>
<text x="1602" y="3715">TGM5</text>
<text x="1974" y="3734">KLK13</text>
<text x="2123" y="3743">KRT17</text>
<text x="1849" y="3806">DSC3</text>
<text x="1641" y="3833">DSG1</text>
<text x="2073" y="3833">TCHH</text>
<text x="1441" y="3858">PKP2</text>
<text x="1958" y="3891">KRT23</text>
<text x="1813" y="3904">CASP14</text>
<text x="1651" y="3946">SPRR2G</text>
<text x="1462" y="3968">KRT33A</text>
<text x="1815" y="3988">KRT80</text>
<text x="1586" y="4030">SPRR3</text>
<text x="1346" y="4036">KRT81</text>
</g>
<g id="pathway-labels">
<text class="pl" x="2490" y="1266">Cell Cycle, Mitotic</text>
<text class="pl" x="1848" y="1122">Mitotic Prometaphase</text>
<text class="pl" x="3025" y="1883">Chromosome Maintenance</text>
<text class="pr" x="1312" y="3650">Formation of the cornified envelope</text>
<text class="pr" x="1287" y="3650">Keratinization</text>
</g>
</g>
</svg>
